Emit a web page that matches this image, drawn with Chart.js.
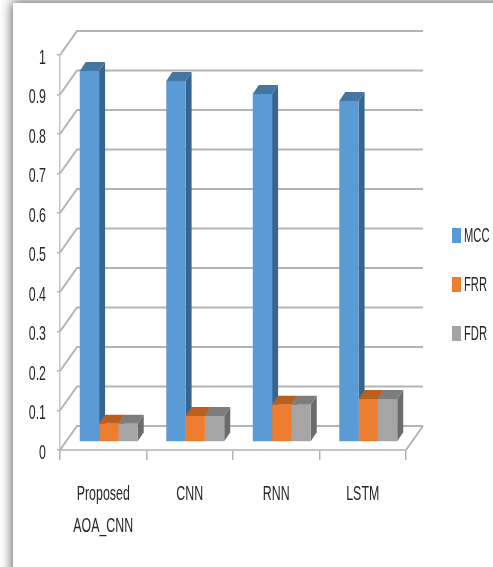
<!DOCTYPE html>
<html>
<head>
<meta charset="utf-8">
<title>MCC, FRR and FDR by model</title>
<script src="https://cdn.jsdelivr.net/npm/chart.js@4"></script>
<style>
    html, body { margin: 0; height: 100%; background: #fff; overflow: hidden; }
    #sheet {
        position: absolute; left: 13px; top: 3px; width: 490px; height: 580px;
        background: #fff; box-shadow: 0 0 11px 1px rgba(0, 0, 0, 0.65);
    }
    #chartBox { position: absolute; left: 0; top: 0; width: 493px; height: 567px; }
    #legend { position: absolute; left: 452px; top: 221px; font: 20px "Liberation Sans", sans-serif; color: #262626; }
    #legend div { position: relative; height: 49px; }
    #legend i { position: absolute; left: 0; top: 7px; width: 9px; height: 15px; }
    #legend span { position: absolute; left: 12px; top: 3px; transform: scaleX(0.56); transform-origin: 0 0; }
</style>
</head>
<body>
<div id="sheet"></div>
<div id="chartBox"><canvas id="modelChart" width="493" height="567"></canvas></div>
<div id="legend"></div>
<script>
// Model comparison - 3D style clustered columns

const models = [['Proposed', 'AOA_CNN'], 'CNN', 'RNN', 'LSTM'];
const seriesNames = ['MCC', 'FRR', 'FDR'];
const mccValues = [0.939, 0.914, 0.881, 0.863];
const frrValues = [0.046, 0.066, 0.094, 0.109];
const fdrValues = [0.046, 0.066, 0.094, 0.109];

const frontColors = ['#5b9bd5', '#ed7d31', '#a5a5a5'];
const sideColors = ['#386490', '#a9591f', '#6b6b6b'];
const topColors = ['#4475a3', '#b8601f', '#7d7d7d'];

const gridColor = '#b4b4b4';
const labelColor = '#262626';
const labelFont = '21px "Liberation Sans", sans-serif';
const labelSqueeze = 0.59;

// Depth of the back wall and of the columns, and where the columns stand on the floor
const wallDepth = { x: 17, y: -24 };
const barDepth = { x: 6, y: -9 };
const floorShift = { x: 5.5, y: -8 };

// Draws the walls and floor behind the columns
const wallsPlugin = {
    id: 'walls',
    beforeDatasetsDraw(chart) {
        const { ctx, chartArea, scales } = chart;
        ctx.save();
        ctx.strokeStyle = gridColor;
        ctx.lineWidth = 2;
        scales.y.ticks.forEach(function(tick) {
            const y = scales.y.getPixelForValue(tick.value);
            ctx.beginPath();
            ctx.moveTo(chartArea.left, y);
            ctx.lineTo(chartArea.left + wallDepth.x, y + wallDepth.y);
            ctx.lineTo(chartArea.right + wallDepth.x, y + wallDepth.y);
            ctx.stroke();
        });
        ctx.beginPath();
        ctx.moveTo(chartArea.right, chartArea.bottom);
        ctx.lineTo(chartArea.right + wallDepth.x, chartArea.bottom + wallDepth.y);
        ctx.stroke();
        ctx.restore();
    }
};

// Draws side and top faces, then moves the native bars back onto the floor
const columnsPlugin = {
    id: 'columns',
    beforeDatasetsDraw(chart) {
        const { ctx } = chart;
        ctx.save();
        ctx.translate(floorShift.x, floorShift.y);
        models.forEach(function(model, m) {
            seriesNames.forEach(function(name, s) {
                const bar = chart.getDatasetMeta(s).data[m];
                const left = bar.x - bar.width / 2;
                const right = bar.x + bar.width / 2;

                ctx.fillStyle = sideColors[s];
                ctx.beginPath();
                ctx.moveTo(right, bar.y);
                ctx.lineTo(right + barDepth.x, bar.y + barDepth.y);
                ctx.lineTo(right + barDepth.x, bar.base + barDepth.y);
                ctx.lineTo(right, bar.base);
                ctx.fill();

                ctx.fillStyle = topColors[s];
                ctx.beginPath();
                ctx.moveTo(left, bar.y);
                ctx.lineTo(left + barDepth.x, bar.y + barDepth.y);
                ctx.lineTo(right + barDepth.x, bar.y + barDepth.y);
                ctx.lineTo(right, bar.y);
                ctx.fill();
            });
        });
    },
    afterDatasetsDraw(chart) {
        chart.ctx.restore();
    }
};

// Tick labels are tall and narrow, which the native tick renderer can't do
function drawSqueezedText(ctx, text, x, y, align) {
    ctx.save();
    ctx.translate(x, y);
    ctx.scale(labelSqueeze, 1);
    ctx.textAlign = align;
    ctx.textBaseline = 'middle';
    ctx.fillText(text, 0, 0);
    ctx.restore();
}

const tickLabelsPlugin = {
    id: 'tickLabels',
    afterDraw(chart) {
        const { ctx, scales } = chart;
        ctx.save();
        ctx.font = labelFont;
        ctx.fillStyle = labelColor;
        scales.y.ticks.forEach(function(tick) {
            drawSqueezedText(ctx, tick.label, 46, scales.y.getPixelForValue(tick.value) + 3, 'right');
        });
        scales.x.ticks.forEach(function(tick, i) {
            const x = scales.x.getPixelForTick(i);
            [].concat(tick.label).forEach(function(line, l) {
                drawSqueezedText(ctx, line, x, 494 + l * 32, 'center');
            });
        });
        ctx.restore();
    }
};

const modelChart = new Chart(document.getElementById('modelChart').getContext('2d'), {
    type: 'bar',
    data: {
        labels: models,
        datasets: [
            { label: seriesNames[0], data: mccValues, backgroundColor: frontColors[0] },
            { label: seriesNames[1], data: frrValues, backgroundColor: frontColors[1] },
            { label: seriesNames[2], data: fdrValues, backgroundColor: frontColors[2] }
        ]
    },
    options: {
        responsive: false,
        animation: false,
        barPercentage: 1,
        categoryPercentage: 0.67,
        layout: { padding: { top: 55, right: 87 } },
        plugins: {
            legend: { display: false },
            tooltip: { enabled: false }
        },
        scales: {
            x: {
                afterFit(scale) { scale.height = 117; },
                grid: { drawOnChartArea: false, color: gridColor, lineWidth: 1.5, tickLength: 10 },
                border: { color: '#c4c4c4', width: 2 },
                ticks: { display: false, autoSkip: false }
            },
            y: {
                min: 0,
                max: 1,
                afterFit(scale) { scale.width = 60; },
                grid: { drawOnChartArea: false, color: gridColor, lineWidth: 1.5, tickLength: 3 },
                border: { color: '#c4c4c4', width: 1.5 },
                ticks: {
                    display: false,
                    stepSize: 0.1,
                    callback: function(value) { return String(+value.toFixed(1)); }
                }
            }
        }
    },
    plugins: [wallsPlugin, columnsPlugin, tickLabelsPlugin]
});

// Legend built from the chart's own datasets
modelChart.data.datasets.forEach(function(dataset) {
    const row = document.createElement('div');
    const swatch = document.createElement('i');
    const text = document.createElement('span');
    swatch.style.background = dataset.backgroundColor;
    text.textContent = dataset.label;
    row.appendChild(swatch);
    row.appendChild(text);
    document.getElementById('legend').appendChild(row);
});
</script>
</body>
</html>
